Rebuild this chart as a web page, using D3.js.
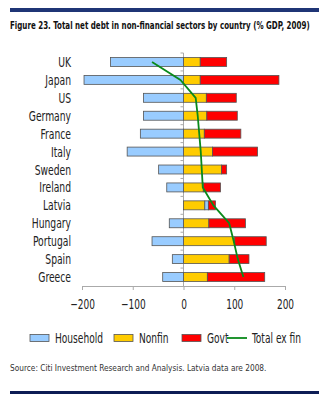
<!DOCTYPE html>
<html>
<head>
<meta charset="utf-8">
<script src="https://cdn.jsdelivr.net/npm/d3@7"></script>
<style>
  body { margin: 0; background: #fff; }
  svg text { font-family: "Liberation Sans Narrow", "DejaVu Sans Condensed", sans-serif; }
</style>
</head>
<body>
<svg id="chart" width="326" height="400"></svg>
<script>
// --- data (% GDP, 2009) ---
const countries = ["UK", "Japan", "US", "Germany", "France", "Italy", "Sweden", "Ireland", "Latvia", "Hungary", "Portugal", "Spain", "Greece"];
const household = [-144, -196, -79, -79, -85, -111, -49, -33, 7, -28, -62, -22, -41];
const nonfin    = [33, 33, 45, 46, 41, 57, 75, 39, 42, 50, 101, 90, 47];
const govt      = [52, 155, 59, 60, 72, 89, 10, 34, 14, 72, 62, 39, 113];
const totalExFin = [-62, -6, 24, 28, 31, 34, 36, 38, 59, 90, 99, 107, 118];
const xTicks = [-200, -100, 0, 100, 200];

const svg = d3.select("#chart");

// police étroite simulée : on compresse le texte horizontalement
function narrow(sel, k) {
  sel.each(function() {
    const len = this.getComputedTextLength();
    d3.select(this).attr("textLength", len * k).attr("lengthAdjust", "spacingAndGlyphs");
  });
}

// texte ajusté à une largeur donnée par transform (x, y = ancre gauche)
function fitText(txt, x0, y0, width, size, weight, fill) {
  const t = svg.append("text")
    .style("font-size", size).style("font-weight", weight).attr("fill", fill)
    .text(txt);
  const len = t.node().getComputedTextLength();
  t.attr("transform", `translate(${x0},${y0}) scale(${width / len},1)`);
  return t;
}

// lignes bleues haut / bas
svg.append("rect").attr("x", 10).attr("y", 8).attr("width", 309).attr("height", 4).attr("fill", "#1f3576");
svg.append("rect").attr("x", 10).attr("y", 391).attr("width", 309).attr("height", 3).attr("fill", "#0d1d55");

// titre
fitText("Figure 23. Total net debt in non-financial sectors by country (% GDP, 2009)", 10, 29, 300, "10.5px", "bold", "#111");

// --- scales ---
const x = d3.scaleLinear().domain([-200, 200]).range([82, 285]);
const y = d3.scaleBand().domain(countries).range([53, 286]).paddingInner(0.5).paddingOuter(0.25);

const rows = countries.map((c, i) => ({ country: c, Household: household[i], Nonfin: nonfin[i], Govt: govt[i] }));
const stack = d3.stack().keys(["Nonfin", "Household", "Govt"]).offset(d3.stackOffsetDiverging);
const series = stack(rows);
const color = { Household: "#99ccff", Nonfin: "#ffcc00", Govt: "#ff0000" };

// axe vertical (zéro) avec petites graduations
svg.append("line").attr("x1", x(0)).attr("x2", x(0)).attr("y1", 53).attr("y2", 286).attr("stroke", "#aaa");
countries.forEach(c => {
  const yy = y(c) - y.step() * y.paddingInner() / 2;
  svg.append("line").attr("x1", x(0) - 3).attr("x2", x(0)).attr("y1", yy).attr("y2", yy).attr("stroke", "#aaa");
});

// barres
svg.append("g").selectAll("g")
  .data(series)
  .join("g")
    .attr("fill", d => color[d.key])
  .selectAll("rect")
  .data(d => d)
  .join("rect")
    .attr("x", d => x(Math.min(d[0], d[1])))
    .attr("y", d => y(d.data.country))
    .attr("width", d => Math.abs(x(d[1]) - x(d[0])))
    .attr("height", y.bandwidth())
    .attr("stroke", "#555")
    .attr("stroke-width", 0.8);

// axe X
const gx = svg.append("g").attr("transform", "translate(0,286)")
  .call(d3.axisBottom(x).tickValues(xTicks).tickSize(4).tickPadding(9).tickFormat(d3.format("d")));
gx.select(".domain").attr("stroke", "#aaa");
gx.selectAll(".tick line").attr("stroke", "#aaa");
gx.selectAll("text").style("font-size", "13.5px").attr("fill", "#222").call(narrow, 0.74);

// étiquettes pays
svg.append("g").selectAll("text")
  .data(countries)
  .join("text")
    .attr("x", 71)
    .attr("y", d => y(d) + y.bandwidth() / 2)
    .attr("dy", "0.36em")
    .attr("text-anchor", "end")
    .style("font-size", "14px")
    .attr("fill", "#222")
    .text(d => d)
    .call(narrow, 0.73);

// ligne Total ex fin
const line = d3.line()
  .x(d => x(d))
  .y((d, i) => y(countries[i]) + y.bandwidth() / 2);
svg.append("path")
  .datum(totalExFin)
  .attr("d", line)
  .attr("fill", "none")
  .attr("stroke", "#0a8a1a")
  .attr("stroke-width", 1.8);

// légende
const leg = svg.append("g").attr("transform", "translate(0,338)");
const items = [
  { label: "Household", x: 30, type: "rect", c: color.Household },
  { label: "Nonfin", x: 114, type: "rect", c: color.Nonfin },
  { label: "Govt", x: 182, type: "rect", c: color.Govt },
  { label: "Total ex fin", x: 227, type: "line", c: "#0a8a1a" }
];
items.forEach(it => {
  if (it.type === "rect") {
    leg.append("rect").attr("x", it.x).attr("y", -3.5).attr("width", 19).attr("height", 7)
      .attr("fill", it.c).attr("stroke", "#555").attr("stroke-width", 0.8);
  } else {
    leg.append("line").attr("x1", it.x).attr("x2", it.x + 20).attr("y1", 0).attr("y2", 0)
      .attr("stroke", it.c).attr("stroke-width", 1.8);
  }
  leg.append("text")
    .attr("x", it.x + 25)
    .attr("dy", "0.36em")
    .style("font-size", "14px").attr("fill", "#222")
    .text(it.label)
    .call(narrow, 0.72);
});

// source
fitText("Source: Citi Investment Research and Analysis. Latvia data are 2008.", 10, 371, 257, "8px", "normal", "#333");
</script>
</body>
</html>
